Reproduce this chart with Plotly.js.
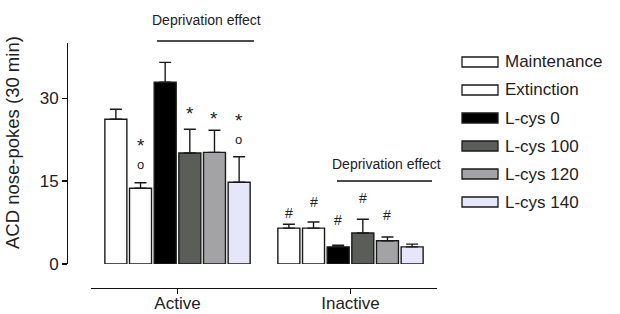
<!DOCTYPE html>
<html><head><meta charset="utf-8">
<script src="https://cdn.plot.ly/plotly-3.0.1.min.js"></script>
<style>html,body{margin:0;padding:0;background:#fff}</style>
</head><body>
<div id="chart" style="width:620px;height:314px"></div>
<script>
// ---- data ----
var categories = ['Active', 'Inactive'];
var seriesNames = ['Maintenance', 'Extinction', 'L-cys 0', 'L-cys 100', 'L-cys 120', 'L-cys 140'];
var seriesColors = ['#ffffff', '#ffffff', '#000000', '#5b5d59', '#a3a3a6', '#e6e6fb'];
var maintenance = [26.2, 6.5];
var extinction = [13.7, 6.5];
var lcys0 = [32.9, 3.1];
var lcys100 = [20.1, 5.6];
var lcys120 = [20.2, 4.2];
var lcys140 = [14.8, 3.1];
var semMaintenance = [1.8, 0.7];
var semExtinction = [1.0, 1.1];
var semLcys0 = [3.6, 0.3];
var semLcys100 = [4.3, 2.5];
var semLcys120 = [4.0, 0.7];
var semLcys140 = [4.6, 0.5];
var yTicks = [0, 15, 30];
var yTitle = 'ACD nose-pokes (30 min)';
// significance marks: [categoryIndex, seriesIndex, symbols, yValue]
var marks = [
  [0, 1, '*o', 20.4],
  [0, 3, '*', 28.2], [0, 4, '*', 27.3],
  [0, 5, '*o', 24.9],
  [1, 0, '#', 9.2], [1, 1, '#', 11.2], [1, 2, '#', 8.0],
  [1, 3, '#', 11.9], [1, 4, '#', 8.9]
];
var bracketLabel = 'Deprivation effect';

// ---- build ----
var W = 620, H = 314;
function px(x) { return x / W; }
function py(y) { return 1 - y / H; }
var values = [maintenance, extinction, lcys0, lcys100, lcys120, lcys140];
var sems = [semMaintenance, semExtinction, semLcys0, semLcys100, semLcys120, semLcys140];
var bargap = 0.145;
var traces = seriesNames.map(function (n, i) {
  return {
    type: 'bar', name: n, x: categories, y: values[i],
    marker: { color: seriesColors[i], line: { color: '#1a1a1a', width: 1.4 } },
    error_y: { type: 'data', symmetric: false, array: sems[i], arrayminus: [0, 0],
      color: '#1a1a1a', thickness: 1.4, width: 6 },
    showlegend: false, hoverinfo: 'skip'
  };
});
var slot = (1 - bargap) / seriesNames.length;
var annotations = marks.map(function (m) {
  var s = m[2], text, size = 13, shift = 0;
  if (s === '*o') { text = '<span style="font-size:19px">*</span><br>o'; shift = -2; }
  else if (s === '*') { text = '*'; size = 19; shift = -5; }
  else { text = s; size = 14; }
  return {
    xref: 'x', yref: 'y', x: m[0] + (m[1] - 2.5) * slot, y: m[3],
    xanchor: 'center', yanchor: 'middle',
    text: text, showarrow: false,
    font: { family: 'Liberation Sans, Arial, sans-serif', size: size, color: '#222' },
    yshift: shift
  };
});
annotations.push({ xref: 'paper', yref: 'paper', x: px(206), y: py(20), xanchor: 'center', yanchor: 'middle',
  text: bracketLabel, showarrow: false,
  font: { family: 'Liberation Sans Narrow, Arial Narrow, Liberation Sans, sans-serif', size: 14, color: '#222' } });
annotations.push({ xref: 'paper', yref: 'paper', x: px(386), y: py(164), xanchor: 'center', yanchor: 'middle',
  text: bracketLabel, showarrow: false,
  font: { family: 'Liberation Sans Narrow, Arial Narrow, Liberation Sans, sans-serif', size: 14, color: '#222' } });
// y-axis title
annotations.push({ xref: 'paper', yref: 'paper', x: px(12), y: py(143), xanchor: 'center', yanchor: 'middle',
  text: yTitle, textangle: -90, showarrow: false,
  font: { family: 'Liberation Sans, Arial, sans-serif', size: 18.5, color: '#222' } });
var shapes = [
  { type: 'line', xref: 'paper', yref: 'paper', x0: px(157), x1: px(254), y0: py(41), y1: py(41), line: { color: '#111', width: 1.3 } },
  { type: 'line', xref: 'paper', yref: 'paper', x0: px(337), x1: px(432), y0: py(181), y1: py(181), line: { color: '#111', width: 1.3 } }
];
// custom legend
var legY = [62, 90, 118, 146, 174, 202];
seriesNames.forEach(function (n, i) {
  shapes.push({ type: 'rect', xref: 'paper', yref: 'paper', x0: px(462), x1: px(498), y0: py(legY[i] - 5), y1: py(legY[i] + 5),
    fillcolor: seriesColors[i], line: { color: '#1a1a1a', width: 1.3 } });
  annotations.push({ xref: 'paper', yref: 'paper', x: px(503), y: py(legY[i]), xanchor: 'left', yanchor: 'middle',
    text: n, showarrow: false, font: { family: 'Liberation Sans, Arial, sans-serif', size: 17, color: '#222' } });
});

var layout = {
  width: W, height: H, margin: { l: 0, r: 0, t: 0, b: 0 },
  paper_bgcolor: '#fff', plot_bgcolor: 'rgba(0,0,0,0)',
  font: { family: 'Liberation Sans, Arial, sans-serif', color: '#222', size: 17 },
  barmode: 'group', bargap: bargap, bargroupgap: 0.108,
  xaxis: { domain: [px(91), px(437)], anchor: 'free', position: py(288), range: [-0.5, 1.5],
    type: 'category', showline: true, linecolor: '#111', linewidth: 1.3, ticks: 'outside', ticklen: 5,
    tickcolor: '#111', tickwidth: 1.3, showgrid: false, zeroline: false, tickfont: { size: 17 },
    ticklabelstandoff: -6 },
  yaxis: { domain: [py(264), py(43)], anchor: 'free', position: px(67), range: [0, 40],
    tickvals: yTicks, ticktext: yTicks.map(String), showline: true, linecolor: '#111', linewidth: 1.3,
    ticks: 'outside', ticklen: 5, tickcolor: '#111', tickwidth: 1.3, showgrid: false, zeroline: false,
    tickfont: { size: 17 } },
  annotations: annotations, shapes: shapes
};
Plotly.newPlot('chart', traces, layout, { staticPlot: true, displayModeBar: false });
</script>
</body></html>
